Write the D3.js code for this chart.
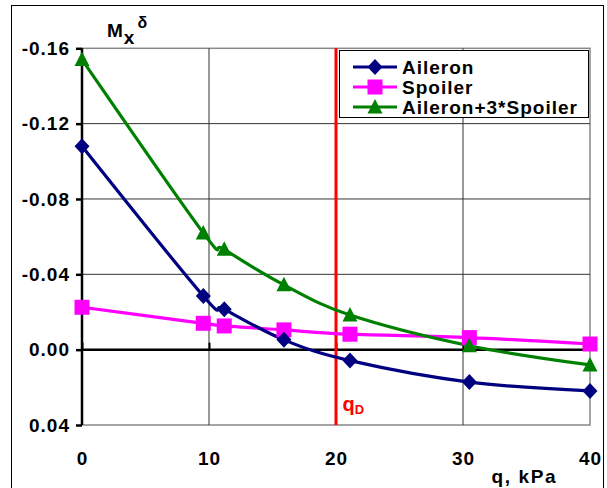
<!DOCTYPE html>
<html><head><meta charset="utf-8">
<script src="https://cdn.jsdelivr.net/npm/d3@7"></script>
<style>
html,body{margin:0;padding:0;background:#fff;}
svg{display:block;font-family:"Liberation Sans",Arial,sans-serif;font-weight:bold;}
</style></head>
<body><svg id="c" width="607" height="488"></svg>
<script>
const qValues = [0, 9.55, 11.2, 15.9, 21.1, 30.5, 40];
const aileron = [-0.108, -0.0285, -0.0215, -0.0052, 0.0058, 0.0172, 0.0219];
const spoiler = [-0.0225, -0.014, -0.0126, -0.0105, -0.0082, -0.0064, -0.003];
const combined = [-0.154, -0.062, -0.0533, -0.0344, -0.0184, -0.0021, 0.0081];
const seriesNames = ["Aileron", "Spoiler", "Aileron+3*Spoiler"];
const xTicks = [0, 10, 20, 30, 40];
const yTicks = [-0.16, -0.12, -0.08, -0.04, 0.00, 0.04];
const qD = 20;

const svg = d3.select("#c");
const L = 82, R = 590, T = 48.3, B = 425;
const x = d3.scaleLinear().domain([0, 40]).range([L, R]);
const y = d3.scaleLinear().domain([-0.16, 0.04]).range([T, B]);
const FS = 19, LS = 1;

// outer frame
svg.append("rect").attr("x", 11.5).attr("y", 5.5).attr("width", 592).attr("height", 490)
  .attr("fill", "none").attr("stroke", "#000").attr("stroke-width", 1);

// plot border
svg.append("rect").attr("x", L).attr("y", T).attr("width", R - L).attr("height", B - T)
  .attr("fill", "none").attr("stroke", "#888").attr("stroke-width", 1.5);

// gridlines
svg.append("g").selectAll("line").data(yTicks.filter(v => v > -0.16 && v < 0.04 && v !== 0))
  .join("line").attr("x1", L).attr("x2", R).attr("y1", d => y(d)).attr("y2", d => y(d))
  .attr("stroke", "#333").attr("stroke-width", 1);
svg.append("g").selectAll("line").data(xTicks.filter(v => v > 0 && v < 40))
  .join("line").attr("x1", d => x(d)).attr("x2", d => x(d)).attr("y1", T).attr("y2", B)
  .attr("stroke", "#333").attr("stroke-width", 1);

// y axis
const yAxis = d3.axisLeft(y).tickValues(yTicks).tickSize(6).tickPadding(6);
const gy = svg.append("g").attr("transform", `translate(${L},0)`).call(yAxis);
gy.select(".domain").attr("stroke", "#000").attr("stroke-width", 2.5).attr("d", `M0,${T}V${B}`);
gy.selectAll(".tick line").attr("stroke", "#000").attr("stroke-width", 2.5);
gy.selectAll(".tick text").attr("font-size", FS).attr("font-weight", "bold")
  .attr("letter-spacing", LS)
  .attr("font-family", "Liberation Sans, Arial, sans-serif").attr("fill", "#000")
  .text(d => d3.format(".2f")(d).replace("−", "-"));

// x axis at zero
const xAxis = d3.axisTop(x).tickValues(xTicks).tickFormat("").tickSize(7);
const gx = svg.append("g").attr("transform", `translate(0,${y(0)})`).call(xAxis);
gx.select(".domain").attr("stroke", "#000").attr("stroke-width", 2.5).attr("d", `M${L},0H${R}`);
gx.selectAll(".tick line").attr("stroke", "#000").attr("stroke-width", 2);

// x tick labels below plot
svg.append("g").selectAll("text").data(xTicks).join("text")
  .attr("x", d => x(d) + LS / 2).attr("y", 465).attr("text-anchor", "middle")
  .attr("letter-spacing", LS).attr("font-size", FS).text(d => d);

// axis titles
const yt = svg.append("text").attr("x", 107).attr("y", 36.7).attr("font-size", FS).attr("letter-spacing", LS);
yt.append("tspan").text("M");
yt.append("tspan").attr("dy", 7.6).text("x");
yt.append("tspan").attr("dy", -16.5).attr("dx", 2).attr("font-size", 16).text("δ");
svg.append("text").attr("x", 491.5).attr("y", 482.5).attr("font-size", FS).attr("letter-spacing", 1.6).text("q, kPa");

// qD line
svg.append("line").attr("x1", x(qD)).attr("x2", x(qD)).attr("y1", T).attr("y2", B)
  .attr("stroke", "#ff0000").attr("stroke-width", 3);
const qt = svg.append("text").attr("x", 342.5).attr("y", 411).attr("fill", "#ff0000").attr("font-size", 20);
qt.append("tspan").text("q");
qt.append("tspan").attr("dy", 3).attr("font-size", 13).text("D");

// series
const series = [
  {name: seriesNames[0], vals: aileron, color: "#000080", sym: "diamond"},
  {name: seriesNames[1], vals: spoiler, color: "#ff00ff", sym: "square"},
  {name: seriesNames[2], vals: combined, color: "#008000", sym: "triangle"}
];
function marker(g, type, cx, cy, color) {
  if (type === "diamond") {
    g.append("path").attr("d", `M${cx},${cy-8}L${cx+7.5},${cy}L${cx},${cy+8}L${cx-7.5},${cy}Z`).attr("fill", color);
  } else if (type === "square") {
    g.append("rect").attr("x", cx - 7.5).attr("y", cy - 7.5).attr("width", 15).attr("height", 15).attr("fill", color);
  } else {
    g.append("path").attr("d", `M${cx},${cy-8}L${cx+7.5},${cy+6.5}L${cx-7.5},${cy+6.5}Z`).attr("fill", color);
  }
}
const line = d3.line().curve(d3.curveCardinal.tension(0)).x((d, i) => x(qValues[i])).y(d => y(d));
const drawOrder = [1, 0, 2];
drawOrder.forEach(k => {
  const s = series[k];
  svg.append("path").attr("d", line(s.vals)).attr("fill", "none").attr("stroke", s.color).attr("stroke-width", 3.2);
});
drawOrder.forEach(k => {
  const s = series[k];
  const g = svg.append("g");
  s.vals.forEach((v, i) => marker(g, s.sym, x(qValues[i]), y(v), s.color));
});

// legend
const lg = svg.append("g");
lg.append("rect").attr("x", 339.5).attr("y", 50.5).attr("width", 249).attr("height", 67)
  .attr("fill", "#fff").attr("stroke", "#000").attr("stroke-width", 1);
series.forEach((s, i) => {
  const cy = 67 + i * 20;
  lg.append("line").attr("x1", 353).attr("x2", 397).attr("y1", cy).attr("y2", cy)
    .attr("stroke", s.color).attr("stroke-width", 3.2);
  marker(lg, s.sym, 375, cy, s.color);
  lg.append("text").attr("x", 402).attr("y", cy + 6.5).attr("font-size", FS)
    .attr("letter-spacing", LS).text(s.name);
});
</script></body></html>
